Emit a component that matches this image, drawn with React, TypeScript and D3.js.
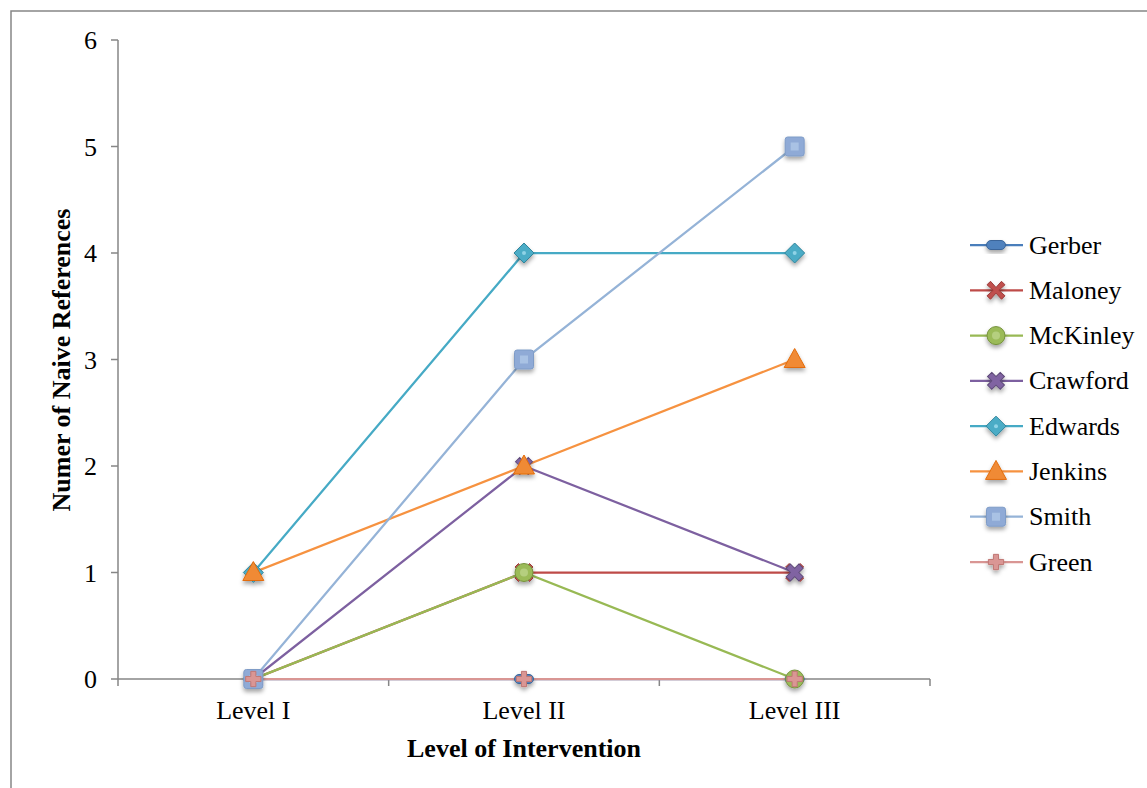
import React from "react";
import * as d3 from "d3";

// Intervention levels and the count of naive references per student
const levels = ["Level I", "Level II", "Level III"];
const yTicks = [0, 1, 2, 3, 4, 5, 6];

const gerber = [0, 0, 0];
const maloney = [0, 1, 1];
const mckinley = [0, 1, 0];
const crawford = [0, 2, 1];
const edwards = [1, 4, 4];
const jenkins = [1, 2, 3];
const smith = [0, 3, 5];
const green = [0, 0, 0];

type Series = { name: string; values: number[]; line: string; fill: string; stroke: string; marker: string };

const series: Series[] = [
  { name: "Gerber", values: gerber, line: "#4A7EBB", fill: "#4F81BD", stroke: "#3A659A", marker: "dash" },
  { name: "Maloney", values: maloney, line: "#BE4B48", fill: "#C0504D", stroke: "#9B3B38", marker: "xbold" },
  { name: "McKinley", values: mckinley, line: "#98B954", fill: "#9BBB59", stroke: "#76923C", marker: "circle" },
  { name: "Crawford", values: crawford, line: "#7D60A0", fill: "#8064A2", stroke: "#5F4B7A", marker: "x" },
  { name: "Edwards", values: edwards, line: "#46AAC5", fill: "#4BACC6", stroke: "#31859C", marker: "diamond" },
  { name: "Jenkins", values: jenkins, line: "#F69240", fill: "#F08A35", stroke: "#E36C09", marker: "triangle" },
  { name: "Smith", values: smith, line: "#95B3D7", fill: "#8FAAD6", stroke: "#7F9CC7", marker: "square" },
  { name: "Green", values: green, line: "#D99694", fill: "#DA9694", stroke: "#C07774", marker: "plus" },
];

const W = 1147;
const H = 788;
const plot = { left: 118, right: 930, top: 40, bottom: 679 };
const serif = "'Times New Roman', 'Liberation Serif', Times, serif";
const txt = { fontFamily: serif };

const x = d3.scaleBand<string>().domain(levels).range([plot.left, plot.right]);
const y = d3.scaleLinear().domain([0, 6]).range([plot.bottom, plot.top]);
const cx = (l: string) => (x(l) as number) + x.bandwidth() / 2;

function Marker({ s, px, py }: { s: Series; px: number; py: number }) {
  const common = { fill: s.fill, stroke: s.stroke, strokeWidth: 1 };
  switch (s.marker) {
    case "dash":
      return <rect x={px - 9.5} y={py - 4.5} width={19} height={9} rx={4.5} {...common} />;
    case "xbold": {
      const p = d3.path();
      const a = 9, b = 3.5;
      p.moveTo(px - a, py - a + b); p.lineTo(px - a + b, py - a); p.lineTo(px, py - b * 0.8);
      p.lineTo(px + a - b, py - a); p.lineTo(px + a, py - a + b); p.lineTo(px + b * 0.8, py);
      p.lineTo(px + a, py + a - b); p.lineTo(px + a - b, py + a); p.lineTo(px, py + b * 0.8);
      p.lineTo(px - a + b, py + a); p.lineTo(px - a, py + a - b); p.lineTo(px - b * 0.8, py);
      p.closePath();
      return <path d={p.toString()} {...common} />;
    }
    case "x": {
      const sym = d3.symbol().type(d3.symbolCross).size(180)();
      return <path d={sym as string} transform={`translate(${px},${py}) rotate(45)`} {...common} />;
    }
    case "circle":
      return (
        <g>
          <circle cx={px} cy={py} r={9} {...common} />
          <circle cx={px} cy={py} r={4} fill="#B5CF7F" />
        </g>
      );
    case "diamond":
      return (
        <g>
          <path d={`M${px},${py - 10}L${px + 10},${py}L${px},${py + 10}L${px - 10},${py}Z`} {...common} strokeLinejoin="round" />
          <circle cx={px} cy={py} r={2} fill="#8FD3E6" />
        </g>
      );
    case "triangle":
      return <path d={`M${px},${py - 11}L${px + 10.5},${py + 8}L${px - 10.5},${py + 8}Z`} {...common} strokeLinejoin="round" />;
    case "square":
      return (
        <g>
          <rect x={px - 9.5} y={py - 9.5} width={19} height={19} rx={2.5} {...common} />
          <rect x={px - 4} y={py - 4} width={8} height={8} fill="#A9C2E4" />
        </g>
      );
    case "plus": {
      const sym = d3.symbol().type(d3.symbolCross).size(130)();
      return <path d={sym as string} transform={`translate(${px},${py})`} {...common} />;
    }
  }
  return null;
}

export default function App() {
  const line = d3
    .line<number>()
    .x((_, i) => cx(levels[i]))
    .y((v) => y(v));

  const xTickPos = [plot.left, ...levels.map((l) => (x(l) as number) + x.bandwidth())];
  const legendY = d3.scaleLinear().domain([0, 7]).range([245, 562]);

  return (
    <svg width={W} height={H} style={{ position: "absolute", left: 0, top: 0, background: "#fff" }}>
      <defs>
        <filter id="shadow" x="-50%" y="-50%" width="200%" height="200%">
          <feDropShadow dx={0} dy={3} stdDeviation={2} floodColor="#000" floodOpacity={0.35} />
        </filter>
      </defs>

      {/* chart frame */}
      <path d={`M11,${H}V11H${W}`} fill="none" stroke="#868686" strokeWidth={1.5} />

      {/* y axis */}
      <line x1={plot.left} x2={plot.left} y1={plot.top} y2={plot.bottom} stroke="#868686" strokeWidth={1.5} />
      {yTicks.map((t) => (
        <g key={t}>
          <line x1={plot.left - 7} x2={plot.left} y1={y(t)} y2={y(t)} stroke="#868686" strokeWidth={1.5} />
          <text x={97} y={y(t)} dy="0.35em" textAnchor="end" fontSize={26} fill="#000" style={txt}>
            {t}
          </text>
        </g>
      ))}

      {/* x axis */}
      <line x1={plot.left} x2={plot.right} y1={plot.bottom} y2={plot.bottom} stroke="#868686" strokeWidth={1.5} />
      {xTickPos.map((p, i) => (
        <line key={i} x1={p} x2={p} y1={plot.bottom} y2={plot.bottom + 7} stroke="#868686" strokeWidth={1.5} />
      ))}
      {levels.map((l) => (
        <text key={l} x={cx(l)} y={719} textAnchor="middle" fontSize={26} fill="#000" style={txt}>
          {l}
        </text>
      ))}

      {/* axis titles */}
      <text x={524} y={757} textAnchor="middle" fontSize={26} fontWeight="bold" style={txt}>
        Level of Intervention
      </text>
      <text
        transform={`translate(70,360) rotate(-90)`}
        textAnchor="middle"
        fontSize={26}
        fontWeight="bold"
        style={txt}
      >
        Numer of Naive References
      </text>

      {/* series lines */}
      {series.map((s) => (
        <path key={s.name} d={line(s.values) as string} fill="none" stroke={s.line} strokeWidth={2.25} />
      ))}

      {/* markers */}
      <g filter="url(#shadow)">
        {series.map((s) =>
          s.values.map((v, i) => <Marker key={s.name + i} s={s} px={cx(levels[i])} py={y(v)} />)
        )}
      </g>

      {/* legend */}
      {series.map((s, i) => {
        const ly = legendY(i);
        return (
          <g key={s.name}>
            <line x1={970} x2={1023} y1={ly} y2={ly} stroke={s.line} strokeWidth={2.25} />
            <g filter="url(#shadow)">
              <Marker s={s} px={996} py={ly} />
            </g>
            <text x={1029} y={ly} dy="0.33em" fontSize={26} fill="#000" style={txt}>
              {s.name}
            </text>
          </g>
        );
      })}
    </svg>
  );
}
